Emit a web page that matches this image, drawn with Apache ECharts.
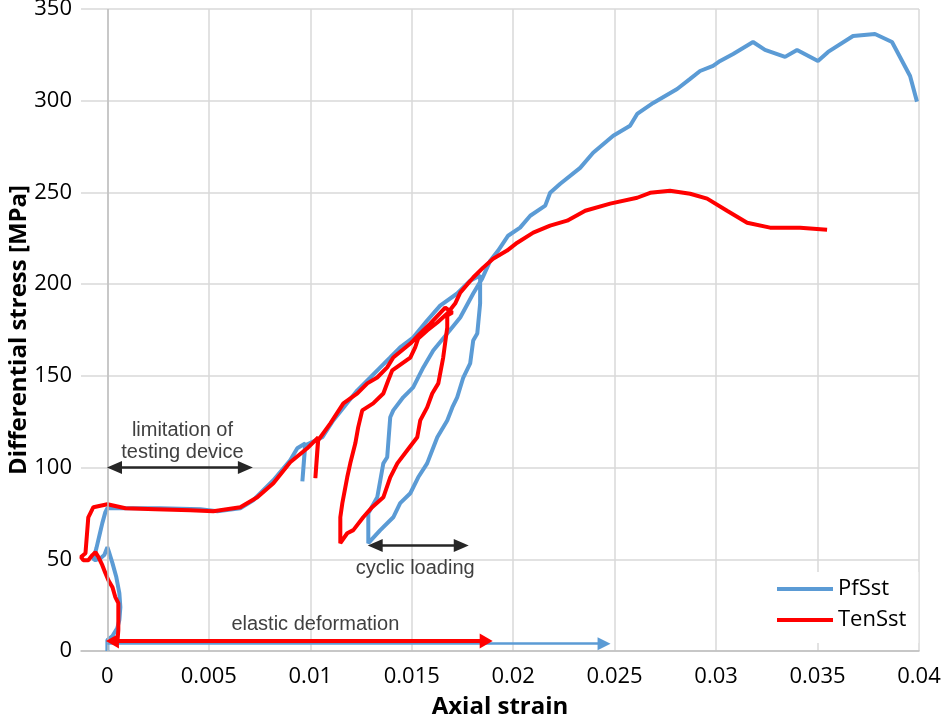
<!DOCTYPE html>
<html><head><meta charset="utf-8">
<script src="https://cdn.jsdelivr.net/npm/echarts@6/dist/echarts.min.js"></script>
<style>html,body{margin:0;padding:0;background:#fff}#c{width:945px;height:721px}</style>
</head><body><div id="c"></div>
<script>
// ---- data ----
const xTicks = [0, 0.005, 0.01, 0.015, 0.02, 0.025, 0.03, 0.035, 0.04];
const pfSstStrain = [0,0,0.00025,0.00049,0.00059,0.00064,0.00059,0.00044,0.00025,0.00005,0,-0.00015,-0.00034,-0.00059,-0.00069,-0.00054,-0.00039,-0.00025,-0.0001,0,0.00113,0.0026,0.00458,0.00542,0.00655,0.00719,0.00818,0.00901,0.00936,0.00975,0.00961,0.00975,0.01059,0.01113,0.01172,0.01232,0.01296,0.01345,0.01394,0.01443,0.01507,0.01576,0.0164,0.01724,0.01788,0.01837,0.01837,0.01823,0.01803,0.01788,0.01754,0.01724,0.017,0.01675,0.01626,0.01601,0.01576,0.01532,0.01493,0.01443,0.01409,0.01345,0.01286,0.01286,0.0133,0.0136,0.01379,0.01394,0.01409,0.01458,0.01507,0.01557,0.01606,0.01675,0.01739,0.01803,0.01847,0.01887,0.01926,0.01975,0.02034,0.02084,0.02158,0.02182,0.02232,0.0233,0.02394,0.02493,0.02576,0.02611,0.0269,0.02808,0.02872,0.02921,0.02985,0.0302,0.03084,0.03182,0.03241,0.0334,0.03399,0.03502,0.03552,0.03675,0.03783,0.03867,0.03956,0.0399];
const pfSstStress = [0,6.0,8.2,12.5,16.9,23.9,31.6,40.3,47.9,55.0,56.6,52.3,50.6,49.5,50.1,56.1,63.1,69.7,75.7,77.8,77.8,77.8,77.3,76.2,77.8,82.2,93.1,104.0,110.5,113.2,92.5,112.1,116.5,125.7,133.9,142.1,149.1,154.6,160.0,165.5,170.9,180.2,188.3,194.9,201.9,204.7,189.4,173.1,169.3,156.8,149.1,138.3,132.8,125.7,116.5,109.4,102.3,94.7,86.0,80.6,72.9,65.9,58.8,75.1,83.8,102.3,105.6,127.4,131.2,138.3,143.7,154.6,163.8,173.1,181.8,194.9,203.0,212.8,218.3,226.4,230.8,237.3,242.8,249.8,254.7,263.4,271.6,280.9,286.3,292.8,298.8,306.4,311.9,316.2,319.0,321.7,325.5,332.0,327.7,323.9,327.7,321.7,326.6,335.3,336.4,332.0,313.5,299.5];
const tenSstStrain = [0.00049,0.00054,0.00054,0.00054,0.00039,0.00025,0.00005,-0.0001,-0.00025,-0.00044,-0.00059,-0.00074,-0.00094,-0.00118,-0.0013,-0.00108,-0.00099,-0.00094,-0.00069,0,0.00089,0.00236,0.00409,0.00522,0.00655,0.00739,0.00818,0.00901,0.00985,0.01039,0.01025,0.01039,0.01099,0.01163,0.01232,0.01281,0.0133,0.01379,0.01409,0.01493,0.01532,0.01591,0.01665,0.017,0.01675,0.01675,0.01655,0.01631,0.01601,0.01576,0.01542,0.01527,0.01478,0.01429,0.01394,0.0136,0.01305,0.01261,0.01212,0.01182,0.01148,0.01148,0.01158,0.01182,0.01197,0.01222,0.01236,0.01256,0.0131,0.0136,0.01384,0.01404,0.01493,0.01517,0.01532,0.01576,0.01626,0.01675,0.01714,0.01739,0.01803,0.01852,0.01901,0.0197,0.0202,0.02099,0.02182,0.02266,0.02355,0.02478,0.02611,0.02675,0.02773,0.02872,0.02956,0.03054,0.03153,0.03266,0.03414,0.03547];
const tenSstStress = [4.4,11.4,18.5,26.1,29.4,34.8,38.6,42.5,46.8,51.2,53.9,52.3,49.5,49.5,51.2,53.3,65.9,72.9,78.4,80.0,77.8,77.3,76.7,76.2,78.4,83.8,91.4,102.9,110.5,116.5,94.2,114.9,124.1,135.0,140.4,145.9,149.1,154.6,160.0,167.6,172.0,178.5,187.2,184.5,182.9,176.4,160.0,145.9,140.4,132.8,125.7,116.5,109.4,102.3,94.7,83.8,78.4,72.9,65.9,64.2,58.8,72.9,80.6,94.7,102.3,113.2,121.9,131.2,135.0,140.4,147.5,153.0,160.0,165.5,170.4,174.7,179.1,184.0,189.4,195.4,203.6,209.0,213.9,218.3,222.6,228.1,231.9,234.6,240.0,243.9,247.1,249.8,250.9,249.3,246.6,240.0,233.5,230.8,230.8,229.7];

// annotation arrows (data coordinates) and notes
const arrowLimit = [[0.00035, 100], [0.0068, 100]];
const arrowCyclic = [[0.0132, 57.5], [0.01744, 57.5]];
const arrowElasticRed = [[0.00025, 5.5], [0.01867, 5.5]];
const arrowElasticBlue = [[0, 4], [0.02448, 4]];
const noteTexts = ['limitation of\ntesting device', 'cyclic loading', 'elastic deformation'];
const noteAt = [[0.0037, 114], [0.01517, 45.2], [0.01025, 14.2]];

const zip = (a, b) => a.map((v, i) => [v, b[i]]);
const BLUE = '#5b9bd5', RED = '#ff0000', DARK = '#262626';

function arrowLine(pts, color, width, syms, size) {
  return {
    silent: true, symbol: syms, symbolSize: size,
    lineStyle: { color: color, width: width, type: 'solid' },
    label: { show: false },
    data: [[{ coord: pts[0] }, { coord: pts[1] }]]
  };
}

const chart = echarts.init(document.getElementById('c'), null, { renderer: 'canvas' });
chart.setOption({
  animation: false,
  backgroundColor: '#ffffff',
  grid: { left: 81, right: 26, top: 9, bottom: 70, containLabel: false, outerBoundsMode: 'none' },
  legend: {
    orient: 'vertical', left: 765, top: 572,
    padding: [6, 12, 12, 12], backgroundColor: '#ffffff',
    itemWidth: 56, itemHeight: 4, itemGap: 9,
    textStyle: { fontFamily: 'Open Sans', fontSize: 22, color: '#000' },
    data: [{ name: 'PfSst', icon: 'rect' }, { name: 'TenSst', icon: 'rect' }]
  },
  xAxis: {
    type: 'value', min: -0.0013, max: 0.04,
    name: 'Axial strain', nameLocation: 'middle', nameGap: 44, nameMoveOverlap: false,
    nameTextStyle: { fontFamily: 'Open Sans', fontWeight: 'bold', fontSize: 24, color: '#000' },
    axisLine: { show: true, onZero: false, lineStyle: { color: '#bfbfbf', width: 1.5 } },
    axisTick: { show: false, customValues: xTicks },
    axisLabel: { customValues: xTicks, fontFamily: 'Open Sans', fontSize: 22, color: '#000', margin: 15 },
    splitLine: { show: true, lineStyle: { color: '#d9d9d9', width: 1.5 } }
  },
  yAxis: {
    type: 'value', min: 0, max: 350, interval: 50,
    name: 'Differential stress [MPa]', nameLocation: 'middle', nameGap: 50, nameMoveOverlap: false,
    nameTextStyle: { fontFamily: 'Open Sans', fontWeight: 'bold', fontSize: 24, color: '#000' },
    axisLine: { show: false },
    axisTick: { show: false },
    axisLabel: { fontFamily: 'Open Sans', fontSize: 22, color: '#000', margin: 9 },
    splitLine: { show: true, lineStyle: { color: '#d9d9d9', width: 1.5 } }
  },
  series: [
    {
      type: 'line', name: 'zeroAxis', data: [], silent: true,
      markLine: { symbol: ['none', 'none'], silent: true, label: { show: false },
        lineStyle: { color: '#bfbfbf', width: 1.5, type: 'solid' },
        data: [{ xAxis: 0 }] }
    },
    {
      type: 'line', name: 'arrowBlue', data: [], silent: true,
      markLine: arrowLine(arrowElasticBlue, BLUE, 2.5, ['none', 'triangle'], [13, 13])
    },
    {
      type: 'line', name: 'PfSst', data: zip(pfSstStrain, pfSstStress),
      showSymbol: false, symbol: 'none', color: BLUE,
      lineStyle: { color: BLUE, width: 4 }, z: 3
    },
    {
      type: 'line', name: 'TenSst', data: zip(tenSstStrain, tenSstStress),
      showSymbol: false, symbol: 'none', color: RED,
      lineStyle: { color: RED, width: 4 }, z: 4
    },
    {
      type: 'line', name: 'arrowRed', data: [], silent: true, z: 5,
      markLine: arrowLine(arrowElasticRed, RED, 4, ['triangle', 'triangle'], [15, 13])
    },
    {
      type: 'line', name: 'arrowsBlack', data: [], silent: true, z: 5,
      markLine: {
        silent: true, symbol: ['triangle', 'triangle'], symbolSize: [13, 15],
        lineStyle: { color: DARK, width: 2.5, type: 'solid' }, label: { show: false },
        data: [
          [{ coord: arrowLimit[0] }, { coord: arrowLimit[1] }],
          [{ coord: arrowCyclic[0] }, { coord: arrowCyclic[1] }]
        ]
      }
    },
    {
      type: 'line', name: 'notes', data: [], silent: true, z: 6,
      markPoint: {
        silent: true, symbol: 'rect', symbolSize: 1,
        itemStyle: { color: 'rgba(0,0,0,0)' },
        label: { show: true, position: 'inside', fontFamily: 'Liberation Sans', fontSize: 20,
                 lineHeight: 22, color: '#404040', align: 'center' },
        data: noteTexts.map((t, i) => ({ coord: noteAt[i], value: t, label: { formatter: t } }))
      }
    }
  ]
});
</script>
</body></html>
